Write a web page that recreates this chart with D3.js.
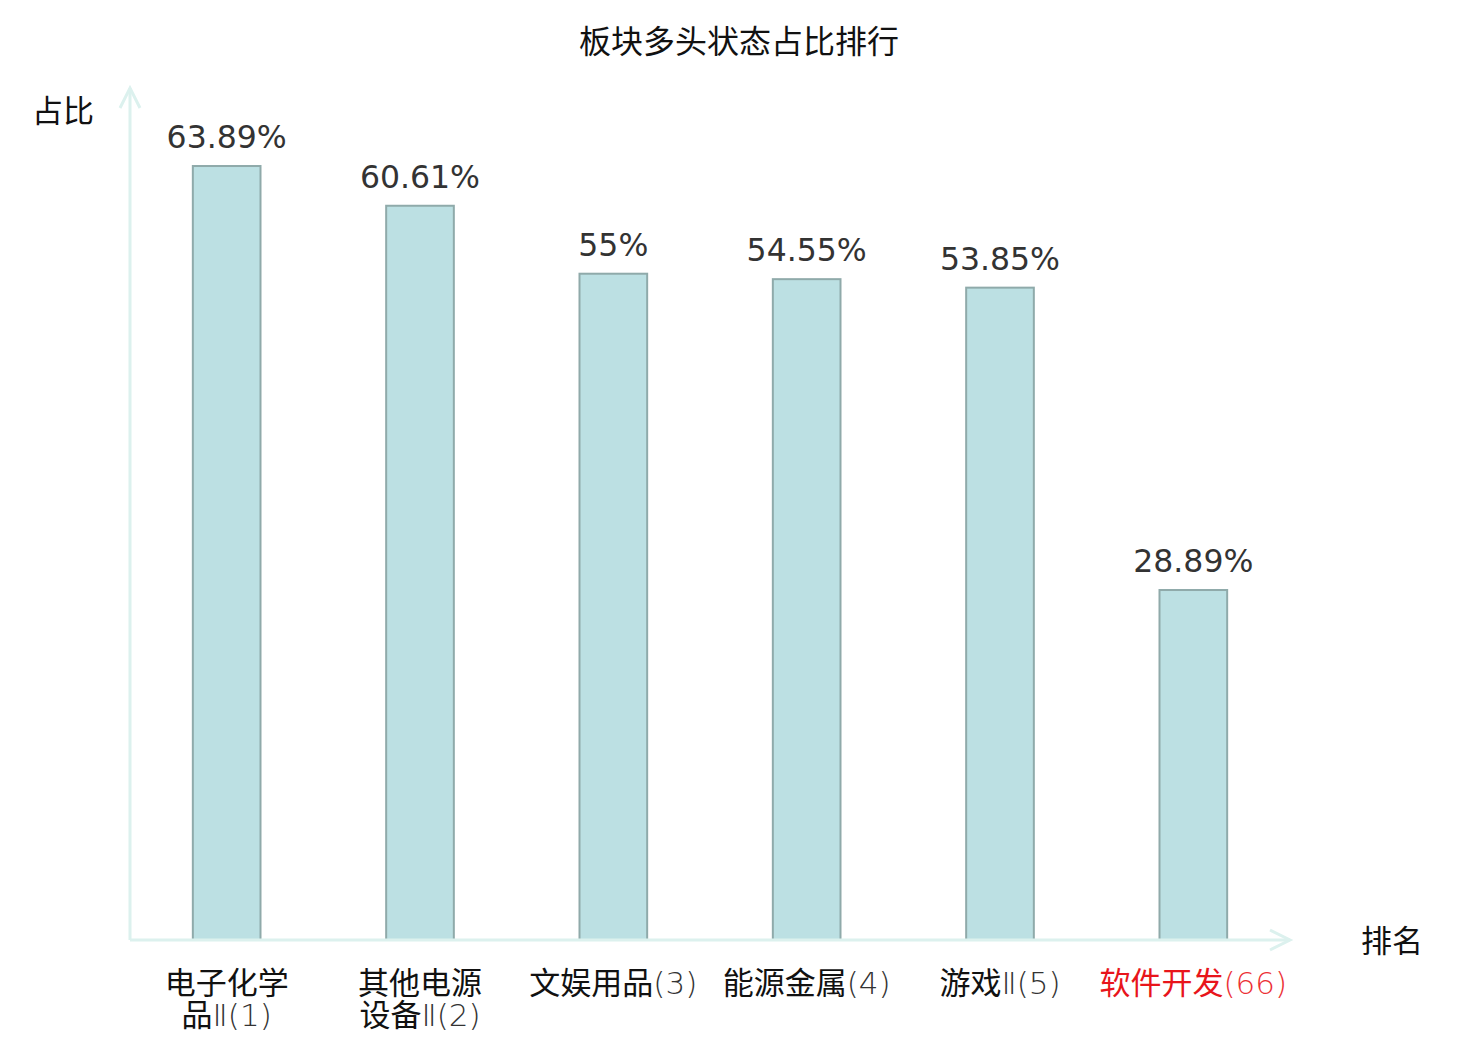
<!DOCTYPE html>
<html>
<head>
<meta charset="utf-8">
<script src="https://cdn.jsdelivr.net/npm/d3@7/dist/d3.min.js"></script>
<style>
  body { margin: 0; background: #fff; }
  text { font-family: "DejaVu Sans", "Noto Sans CJK SC", sans-serif; }
</style>
</head>
<body>
<div id="chart"></div>
<script>
// data
const categories = ["电子化学品Ⅱ(1)", "其他电源设备Ⅱ(2)", "文娱用品(3)", "能源金属(4)", "游戏Ⅱ(5)", "软件开发(66)"];
// each label line: [chinese part, suffix part]
const labelLines = [
    [["电子化学", ""], ["品", "Ⅱ(1)"]],
    [["其他电源", ""], ["设备", "Ⅱ(2)"]],
    [["文娱用品", "(3)"]],
    [["能源金属", "(4)"]],
    [["游戏", "Ⅱ(5)"]],
    [["软件开发", "(66)"]]
];
const values = [63.89, 60.61, 55, 54.55, 53.85, 28.89];
const valueLabels = ["63.89%", "60.61%", "55%", "54.55%", "53.85%", "28.89%"];
const highlighted = ["软件开发(66)"];

const width = 1480, height = 1040;
const margin = {top: 92, right: 190, bottom: 100, left: 130};

const svg = d3.select("#chart").append("svg")
    .attr("width", width)
    .attr("height", height);

const x = d3.scaleBand()
    .domain(categories)
    .range([margin.left, width - margin.right])
    .paddingInner(0.65)
    .paddingOuter(0.325);

const y = d3.scaleLinear()
    .domain([0, 70])
    .range([height - margin.bottom, margin.top]);

const axisColor = "#dcf1ee";

// title
svg.append("text")
    .attr("x", width / 2 - 1)
    .attr("y", 42)
    .attr("text-anchor", "middle")
    .attr("dominant-baseline", "central")
    .style("font-size", "32px")
    .style("fill", "#111")
    .text("板块多头状态占比排行");

// bars
svg.append("g")
    .selectAll("rect")
    .data(values)
    .join("rect")
    .attr("x", (d, i) => x(categories[i]))
    .attr("y", d => y(d))
    .attr("width", x.bandwidth())
    .attr("height", d => y(0) - y(d))
    .style("fill", "#bce0e3")
    .style("stroke", "#8faaaa")
    .style("stroke-width", 2);

// value labels
svg.append("g")
    .selectAll("text")
    .data(values)
    .join("text")
    .attr("x", (d, i) => x(categories[i]) + x.bandwidth() / 2)
    .attr("y", d => y(d) - 18)
    .attr("text-anchor", "middle")
    .style("font-size", "31.5px")
    .style("fill", "#333")
    .text((d, i) => valueLabels[i]);

// axes with arrows
const x0 = margin.left, y0 = height - margin.bottom;
const xEnd = width - margin.right, yEnd = margin.top - 4;
const axes = svg.append("g")
    .style("stroke", axisColor)
    .style("stroke-width", 3)
    .style("fill", "none");
axes.append("line").attr("x1", x0).attr("y1", y0).attr("x2", xEnd).attr("y2", y0);
axes.append("line").attr("x1", x0).attr("y1", y0).attr("x2", x0).attr("y2", yEnd);
axes.append("path")
    .attr("d", `M${xEnd - 20},${y0 - 10}L${xEnd},${y0}L${xEnd - 20},${y0 + 10}`);
axes.append("path")
    .attr("d", `M${x0 - 10},${yEnd + 20}L${x0},${yEnd}L${x0 + 10},${yEnd + 20}`);

// category labels
const cat = svg.append("g")
    .selectAll("text")
    .data(categories)
    .join("text")
    .attr("x", d => x(d) + x.bandwidth() / 2)
    .attr("y", 994)
    .attr("text-anchor", "middle")
    .style("font-size", "31px");

cat.each(function(d, i) {
    const t = d3.select(this);
    const cx = t.attr("x");
    const hi = highlighted.includes(d);
    labelLines[i].forEach((line, j) => {
        t.append("tspan")
            .attr("x", cx)
            .attr("dy", j === 0 ? 0 : 32)
            .style("fill", hi ? "#e8151b" : "#111")
            .text(line[0]);
        if (line[1]) {
            t.append("tspan")
                .style("font-weight", 200)
                .style("fill", hi ? "#ec3035" : "#333")
                .text(line[1]);
        }
    });
});

// axis names
svg.append("text")
    .attr("x", 63)
    .attr("y", 111)
    .attr("text-anchor", "middle")
    .attr("dominant-baseline", "central")
    .style("font-size", "31px")
    .style("fill", "#111")
    .text("占比");

svg.append("text")
    .attr("x", 1392)
    .attr("y", 941)
    .attr("text-anchor", "middle")
    .attr("dominant-baseline", "central")
    .style("font-size", "31px")
    .style("fill", "#111")
    .text("排名");
</script>
</body>
</html>
